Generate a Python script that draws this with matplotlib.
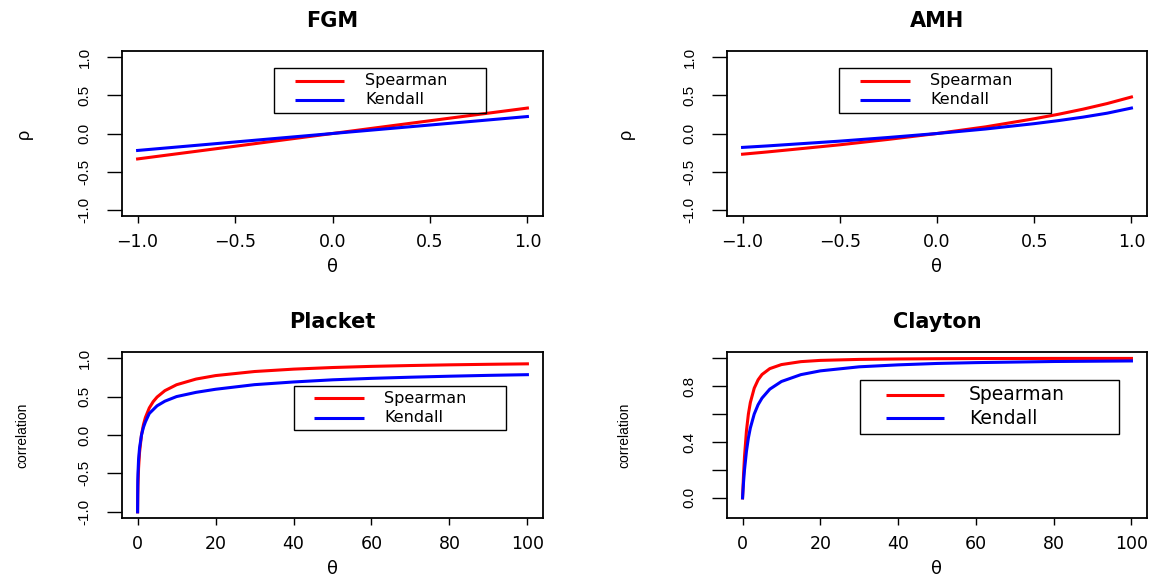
import matplotlib
matplotlib.use("Agg")
import matplotlib.pyplot as plt
from matplotlib.patches import Rectangle
from matplotlib.lines import Line2D

W, H = 1153, 576
LW = 2.2
RED, BLUE = "#FF0000", "#0000FF"

# values
fgm_theta = [-1.0, -0.5, 0.0, 0.5, 1.0]
fgm_spearman = [-0.333, -0.167, 0.0, 0.167, 0.333]
fgm_kendall = [-0.222, -0.111, 0.0, 0.111, 0.222]

amh_theta = [-1.0, -0.875, -0.75, -0.5, -0.25, 0.0, 0.25, 0.5, 0.625, 0.75, 0.875, 1.0]
amh_spearman = [-0.271, -0.242, -0.211, -0.148, -0.077, 0.0, 0.087, 0.193,
                0.252, 0.318, 0.392, 0.478]
amh_kendall = [-0.182, -0.163, -0.142, -0.100, -0.052, 0.0, 0.059, 0.129,
               0.169, 0.214, 0.266, 0.333]

plackett_theta = [0, 0.05, 0.1, 0.25, 0.5, 1, 1.5, 2, 3, 4, 5, 7, 10, 15, 20,
                  30, 40, 50, 60, 70, 80, 90, 100]
plackett_spearman = [-1.0, -0.773, -0.654, -0.434, -0.227, 0.0, 0.134, 0.227,
                     0.352, 0.434, 0.494, 0.577, 0.654, 0.728, 0.773, 0.826,
                     0.857, 0.878, 0.893, 0.904, 0.913, 0.920, 0.926]
plackett_kendall = [-1.0, -0.595, -0.50, -0.32, -0.17, 0.0, 0.10, 0.17, 0.28,
                    0.33, 0.38, 0.44, 0.50, 0.555, 0.595, 0.655, 0.69, 0.718,
                    0.737, 0.752, 0.765, 0.776, 0.785]

clayton_theta = [0, 0.25, 0.5, 1, 1.5, 2, 3, 4, 5, 7, 10, 15, 20, 30, 40, 50,
                 60, 80, 100]
clayton_spearman = [0.0, 0.165, 0.295, 0.479, 0.600, 0.682, 0.785, 0.845, 0.883,
                    0.925, 0.954, 0.975, 0.984, 0.991, 0.994, 0.996, 0.997,
                    0.998, 0.998]
clayton_kendall = [0.0, 0.111, 0.200, 0.333, 0.429, 0.500, 0.600, 0.667, 0.714,
                   0.778, 0.833, 0.882, 0.909, 0.938, 0.952, 0.962, 0.968,
                   0.976, 0.980]

sym_ticks = [-1.0, -0.5, 0.0, 0.5, 1.0]
sym_labels = ["-1.0", "-0.5", "0.0", "0.5", "1.0"]
sym_xlabels = ["\u22121.0", "\u22120.5", "0.0", "0.5", "1.0"]
theta_ticks_big = [0, 20, 40, 60, 80, 100]
clayton_yticks = [0.0, 0.2, 0.4, 0.6, 0.8, 1.0]
clayton_ylabels = ["0.0", "", "0.4", "", "0.8", ""]

panels = [
    dict(title="FGM", x=fgm_theta, sp=fgm_spearman, kd=fgm_kendall,
         box=(122, 51, 543, 216), xlim=(-1.08, 1.08), ylim=(-1.08, 1.08),
         xticks=sym_ticks, xlabels=sym_xlabels,
         yticks=sym_ticks, ylabels=sym_labels, ylab="\u03c1", ylab_fs=13, ylab_x=24,
         leg=dict(box=(274, 68, 486, 113), lx=(295, 344), tx=365, ys=(81, 100), fs=11.5)),
    dict(title="AMH", x=amh_theta, sp=amh_spearman, kd=amh_kendall,
         box=(727, 51, 1147, 216), xlim=(-1.08, 1.08), ylim=(-1.08, 1.08),
         xticks=sym_ticks, xlabels=sym_xlabels,
         yticks=sym_ticks, ylabels=sym_labels, ylab="\u03c1", ylab_fs=13, ylab_x=626,
         leg=dict(box=(839, 68, 1051, 113), lx=(860, 910), tx=930, ys=(81, 100), fs=11.5)),
    dict(title="Placket", x=plackett_theta, sp=plackett_spearman, kd=plackett_kendall,
         box=(122, 352, 543, 518), xlim=(-4, 104), ylim=(-1.08, 1.08),
         xticks=theta_ticks_big, xlabels=[str(t) for t in theta_ticks_big],
         yticks=sym_ticks, ylabels=sym_labels, ylab="correlation", ylab_fs=10, ylab_x=22,
         leg=dict(box=(294, 386, 506, 430), lx=(314, 364), tx=384, ys=(398, 418), fs=11.5)),
    dict(title="Clayton", x=clayton_theta, sp=clayton_spearman, kd=clayton_kendall,
         box=(727, 352, 1147, 518), xlim=(-4, 104), ylim=(-0.144, 1.044),
         xticks=theta_ticks_big, xlabels=[str(t) for t in theta_ticks_big],
         yticks=clayton_yticks, ylabels=clayton_ylabels, ylab="correlation", ylab_fs=10,
         ylab_x=624,
         leg=dict(box=(860, 380, 1119, 434), lx=(886, 944), tx=969, ys=(395, 418), fs=13.5)),
]


def fig_rect(x0, y0, x1, y1):
    return [x0 / W, 1 - y1 / H, (x1 - x0) / W, (y1 - y0) / H]


def draw_legend(fig, leg):
    x0, y0, x1, y1 = leg["box"]
    fig.add_artist(Rectangle((x0 / W, 1 - y1 / H), (x1 - x0) / W, (y1 - y0) / H,
                             transform=fig.transFigure, facecolor="none",
                             edgecolor="black", lw=1.0, zorder=5))
    for (label, color), yy in zip([("Spearman", RED), ("Kendall", BLUE)], leg["ys"]):
        fig.add_artist(Line2D([leg["lx"][0] / W, leg["lx"][1] / W], [1 - yy / H] * 2,
                              transform=fig.transFigure, color=color, lw=LW,
                              solid_capstyle="butt", zorder=6))
        fig.text(leg["tx"] / W, 1 - yy / H, label, ha="left", va="center",
                 fontsize=leg["fs"], zorder=6)


plt.rcParams["font.family"] = "DejaVu Sans"
fig = plt.figure(figsize=(W / 100, H / 100), dpi=100)

for p in panels:
    ax = fig.add_axes(fig_rect(*p["box"]))
    ax.plot(p["x"], p["sp"], color=RED, lw=LW)
    ax.plot(p["x"], p["kd"], color=BLUE, lw=LW)
    ax.set_xlim(*p["xlim"])
    ax.set_ylim(*p["ylim"])
    ax.set_xticks(p["xticks"])
    ax.set_xticklabels(p["xlabels"], fontsize=12.5)
    ax.set_yticks(p["yticks"])
    ax.set_yticklabels(p["ylabels"], rotation=90, va="center",
                       fontfamily="Liberation Sans", fontsize=11)
    ax.tick_params(axis="x", length=5, width=1, pad=7)
    ax.tick_params(axis="y", length=11, width=1, pad=11)
    for s in ax.spines.values():
        s.set_linewidth(1.3)

    x0, y0, x1, y1 = p["box"]
    hgt = y1 - y0
    ax.set_title(p["title"], fontsize=15, fontweight="bold", y=1 + 24 / hgt, pad=0)
    ax.set_xlabel("\u03b8", fontsize=13)
    ax.xaxis.set_label_coords(0.5, -51 / hgt)
    ax.xaxis.label.set_va("center")
    ax.set_ylabel(p["ylab"], fontsize=p["ylab_fs"], fontfamily="Liberation Sans")
    ax.yaxis.set_label_coords((p["ylab_x"] - x0) / (x1 - x0), 0.5)
    ax.yaxis.label.set_va("center")

    draw_legend(fig, p["leg"])

fig.savefig("out.png", dpi=100)
